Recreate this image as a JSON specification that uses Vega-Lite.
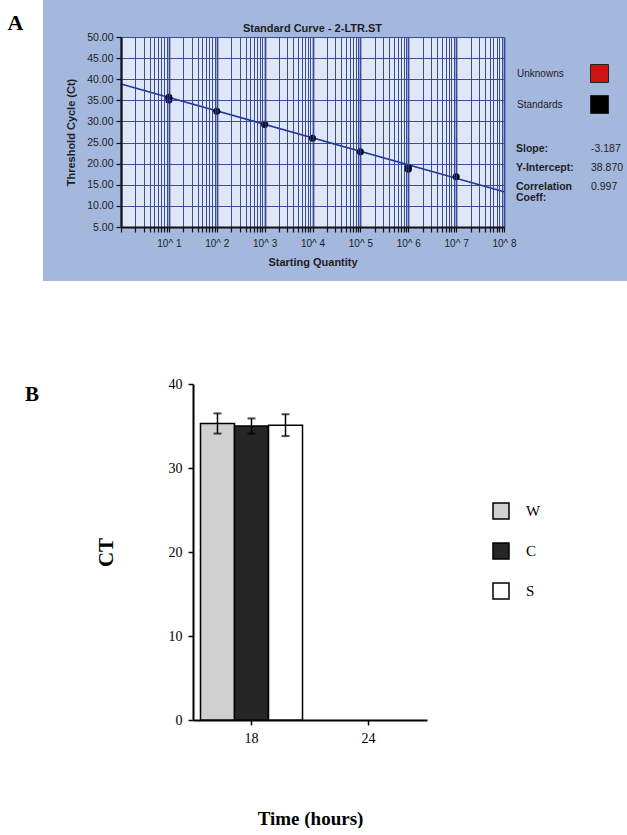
{
  "$schema": "https://vega.github.io/schema/vega-lite/v6.json",
  "padding": {"left": 7, "top": 0, "right": 0, "bottom": 0},
  "background": "white",
  "config": {"view": {"stroke": null}, "font": "Liberation Sans", "axis": {"labelOverlap": false}},
  "spacing": 95,
  "resolve": {"scale": {"color": "independent"}, "legend": {"color": "independent"}},
  "vconcat": [
    {
      "hconcat": [
        {
          "width": 383,
          "height": 190,
          "layer": [
            {
              "data": {"values": [{}]},
              "mark": {"type": "rect", "fill": "#a4b7dd"},
              "encoding": {
                "x": {"datum": 0.0235, "type": "quantitative", "scale": {"type": "log", "domain": [1, 100000000], "nice": false}},
                "x2": {"datum": 39000000000},
                "y": {"datum": 58.76, "type": "quantitative", "scale": {"domain": [5, 50], "nice": false, "zero": false}},
                "y2": {"datum": -7.79}
              }
            },
            {
              "data": {"values": [{}]},
              "mark": {"type": "rect", "fill": "#dfe7f6"},
              "encoding": {
                "x": {"datum": 1, "type": "quantitative", "scale": {"type": "log", "domain": [1, 100000000], "nice": false}},
                "x2": {"datum": 100000000},
                "y": {"datum": 5, "type": "quantitative", "scale": {"domain": [5, 50], "nice": false, "zero": false}},
                "y2": {"datum": 50}
              }
            },
            {
              "data": {"values": [{"q": 1, "ct": 38.87}, {"q": 100000000, "ct": 13.37}]},
              "mark": {"type": "line", "color": "#2237a6", "strokeWidth": 1.6},
              "encoding": {
                "x": {"field": "q", "type": "quantitative", "scale": {"type": "log", "domain": [1, 100000000], "nice": false}},
                "y": {"field": "ct", "type": "quantitative", "scale": {"domain": [5, 50], "nice": false, "zero": false}}
              }
            },
            {
              "data": {"values": [
                {"q": 10, "ct": 35.7, "kind": "Standards"},
                {"q": 10, "ct": 35.1, "kind": "Standards"},
                {"q": 100, "ct": 32.4, "kind": "Standards"},
                {"q": 1000, "ct": 29.3, "kind": "Standards"},
                {"q": 10000, "ct": 26.0, "kind": "Standards"},
                {"q": 100000, "ct": 22.8, "kind": "Standards"},
                {"q": 1000000, "ct": 19.1, "kind": "Standards"},
                {"q": 1000000, "ct": 18.7, "kind": "Standards"},
                {"q": 10000000, "ct": 16.9, "kind": "Standards"}
              ]},
              "mark": {"type": "point", "filled": true, "size": 50, "opacity": 1},
              "encoding": {
                "x": {
                  "field": "q", "type": "quantitative",
                  "scale": {"type": "log", "domain": [1, 100000000], "nice": false},
                  "axis": {
                    "orient": "bottom",
                    "tickCount": 200,
                    "values": [1,2,3,4,5,6,7,8,9,10,20,30,40,50,60,70,80,90,100,200,300,400,500,600,700,800,900,1000,2000,3000,4000,5000,6000,7000,8000,9000,10000,20000,30000,40000,50000,60000,70000,80000,90000,100000,200000,300000,400000,500000,600000,700000,800000,900000,1000000,2000000,3000000,4000000,5000000,6000000,7000000,8000000,9000000,10000000,20000000,30000000,40000000,50000000,60000000,70000000,80000000,90000000,100000000],
                    "labelExpr": "datum.value >= 10 && abs(log(datum.value)/LN10 - round(log(datum.value)/LN10)) < 0.001 ? '10^ ' + round(log(datum.value)/LN10) : ''",
                    "grid": true, "gridColor": "#2a3d90", "gridOpacity": 0.9,
                    "gridWidth": {"condition": {"test": "abs(log(datum.value)/LN10 - round(log(datum.value)/LN10)) < 0.001", "value": 1.8}, "value": 1},
                    "ticks": true, "tickSize": 5, "tickColor": "#111111", "tickWidth": 1.2,
                    "domain": true, "domainColor": "#111111", "domainWidth": 2,
                    "labelFlush": false, "labelOverlap": false,
                    "labelFont": "Liberation Sans", "labelFontSize": 10, "labelColor": "#1e1e1e", "labelPadding": 6,
                    "title": "Starting  Quantity", "titleFont": "Liberation Sans", "titleFontSize": 11, "titleFontWeight": "bold", "titleColor": "#1e1e1e", "titlePadding": 8,
                    "zindex": 1
                  }
                },
                "y": {
                  "field": "ct", "type": "quantitative",
                  "scale": {"domain": [5, 50], "nice": false, "zero": false},
                  "axis": {
                    "orient": "left",
                    "tickCount": 50,
                    "values": [5,10,15,20,25,30,35,40,45,50], "format": ".2f",
                    "grid": true, "gridColor": "#2a3d90", "gridOpacity": 0.9, "gridWidth": 1,
                    "ticks": true, "tickSize": 5, "tickColor": "#111111", "tickWidth": 1.2,
                    "domain": true, "domainColor": "#111111", "domainWidth": 2,
                    "labelOverlap": false, "labelFlush": false,
                    "labelFont": "Liberation Sans", "labelFontSize": 10.5, "labelColor": "#1e1e1e", "labelPadding": 3,
                    "title": "Threshold Cycle (Ct)", "titleFont": "Liberation Sans", "titleFontSize": 11, "titleFontWeight": "bold", "titleColor": "#1e1e1e", "titlePadding": 10,
                    "zindex": 1
                  }
                },
                "color": {
                  "field": "kind", "type": "nominal",
                  "scale": {"domain": ["Unknowns", "Standards"], "range": ["#cc1414", "#000000"]},
                  "legend": {
                    "orient": "none", "legendX": 469, "legendY": 27, "title": null, "padding": 0,
                    "symbolType": "square", "symbolSize": 324, "symbolStrokeColor": "#222222", "symbolStrokeWidth": 1,
                    "labelOffset": -92, "labelFont": "Liberation Sans", "labelFontSize": 10, "labelColor": "#222222",
                    "rowPadding": 8
                  }
                }
              }
            },
            {
              "data": {"values": [{}]},
              "mark": {"type": "text", "text": "Standard Curve - 2-LTR.ST", "font": "Liberation Sans", "fontSize": 11, "fontWeight": "bold", "color": "#1e1e1e", "baseline": "bottom", "align": "center", "dy": -3},
              "encoding": {
                "x": {"datum": 10000, "type": "quantitative", "scale": {"type": "log", "domain": [1, 100000000], "nice": false}},
                "y": {"datum": 50, "type": "quantitative", "scale": {"domain": [5, 50], "nice": false, "zero": false}}
              }
            },
            {
              "data": {"values": [{}]},
              "mark": {"type": "text", "text": "A", "font": "Liberation Serif", "fontSize": 22, "fontWeight": "bold", "color": "#000000", "baseline": "middle", "align": "center"},
              "encoding": {
                "x": {"datum": 0.00625, "type": "quantitative", "scale": {"type": "log", "domain": [1, 100000000], "nice": false}},
                "y": {"datum": 53.3, "type": "quantitative", "scale": {"domain": [5, 50], "nice": false, "zero": false}}
              }
            }
          ]
        },
        {
          "width": 75,
          "height": 190,
          "data": {"values": [
            {"stat": "Slope:", "value": "-3.187"},
            {"stat": "Y-Intercept:", "value": "38.870"},
            {"stat": "Correlation\nCoeff:", "value": "0.997"}
          ]},
          "encoding": {
            "y": {"field": "stat", "type": "nominal", "sort": null, "scale": {"type": "band", "paddingInner": 0, "paddingOuter": 0, "range": [102.5, 159.5]}, "axis": null}
          },
          "layer": [
            {
              "mark": {"type": "text", "align": "left", "baseline": "middle", "font": "Liberation Sans", "fontSize": 10.5, "fontWeight": "bold", "lineBreak": "\n", "lineHeight": 10.5, "color": "#1e1e1e"},
              "encoding": {
                "x": {"datum": "label", "type": "nominal", "scale": {"type": "point", "domain": ["label", "value"], "padding": 0}, "axis": null},
                "text": {"field": "stat"}
              }
            },
            {
              "mark": {"type": "text", "align": "left", "baseline": "middle", "font": "Liberation Sans", "fontSize": 10.5, "color": "#1e1e1e"},
              "encoding": {
                "x": {"datum": "value", "type": "nominal", "scale": {"type": "point", "domain": ["label", "value"], "padding": 0}, "axis": null},
                "text": {"field": "value"}
              }
            }
          ]
        }
      ],
      "spacing": 12,
      "bounds": "flush"
    },
    {
      "width": 306,
      "height": 336,
      "title": {"text": "B", "anchor": "start", "frame": "group", "dx": -96, "dy": 28, "offset": 0, "font": "Liberation Serif", "fontSize": 21, "fontWeight": "bold", "color": "#000000"},
      "data": {"values": [
        {"time": "18", "group": "W", "ct": 35.3, "lo": 34.1, "hi": 36.5},
        {"time": "18", "group": "C", "ct": 35.0, "lo": 34.1, "hi": 35.9},
        {"time": "18", "group": "S", "ct": 35.1, "lo": 33.8, "hi": 36.4}
      ]},
      "encoding": {
        "x": {
          "field": "time", "type": "nominal",
          "scale": {"domain": ["18", "24"], "range": [72, 306], "paddingInner": 0, "paddingOuter": 0},
          "title": "Time (hours)",
          "axis": {
            "labelAngle": 0, "tickSize": 5, "tickColor": "#000000", "tickWidth": 1.5,
            "domainColor": "#000000", "domainWidth": 2,
            "labelFont": "Liberation Serif", "labelFontSize": 14, "labelColor": "#000000", "labelPadding": 6,
            "titleFont": "Liberation Serif", "titleFontSize": 19, "titleFontWeight": "bold", "titleColor": "#000000", "titlePadding": 64
          }
        },
        "xOffset": {"field": "group", "type": "nominal", "sort": ["W", "C", "S"], "scale": {"domain": ["W", "C", "S"], "paddingInner": 0, "paddingOuter": 0.22}}
      },
      "layer": [
        {
          "mark": {"type": "bar", "stroke": "#000000", "strokeWidth": 1.5},
          "encoding": {
            "y": {
              "field": "ct", "type": "quantitative",
              "scale": {"domain": [0, 40], "nice": false},
              "axis": {
                "orient": "left",
                "tickCount": 20,
                "values": [0, 10, 20, 30, 40], "offset": -72, "grid": false,
                "tickSize": 5, "tickColor": "#000000", "tickWidth": 1.5,
                "domainColor": "#000000", "domainWidth": 2,
                "labelFont": "Liberation Serif", "labelFontSize": 14, "labelColor": "#000000", "labelPadding": 6,
                "title": "CT", "titleFont": "Liberation Serif", "titleFontSize": 21, "titleFontWeight": "bold", "titleColor": "#000000", "titlePadding": 52
              }
            },
            "color": {
              "field": "group", "type": "nominal",
              "scale": {"domain": ["W", "C", "S"], "range": ["#d0d0d0", "#262626", "#ffffff"]},
              "legend": {
                "orient": "none", "legendX": 371, "legendY": 118, "title": null, "padding": 0,
                "symbolType": "square", "symbolSize": 256, "symbolStrokeColor": "#000000", "symbolStrokeWidth": 1.5,
                "labelFont": "Liberation Serif", "labelFontSize": 15, "labelColor": "#000000", "labelOffset": 16,
                "rowPadding": 18
              }
            }
          }
        },
        {
          "mark": {"type": "rule", "color": "#000000", "strokeWidth": 1.5},
          "encoding": {
            "y": {"field": "lo", "type": "quantitative", "scale": {"domain": [0, 40], "nice": false}},
            "y2": {"field": "hi"}
          }
        },
        {
          "mark": {"type": "tick", "color": "#000000", "thickness": 2, "size": 8},
          "encoding": {
            "y": {"field": "hi", "type": "quantitative", "scale": {"domain": [0, 40], "nice": false}}
          }
        },
        {
          "mark": {"type": "tick", "color": "#000000", "thickness": 2, "size": 8},
          "encoding": {
            "y": {"field": "lo", "type": "quantitative", "scale": {"domain": [0, 40], "nice": false}}
          }
        }
      ]
    }
  ]
}
